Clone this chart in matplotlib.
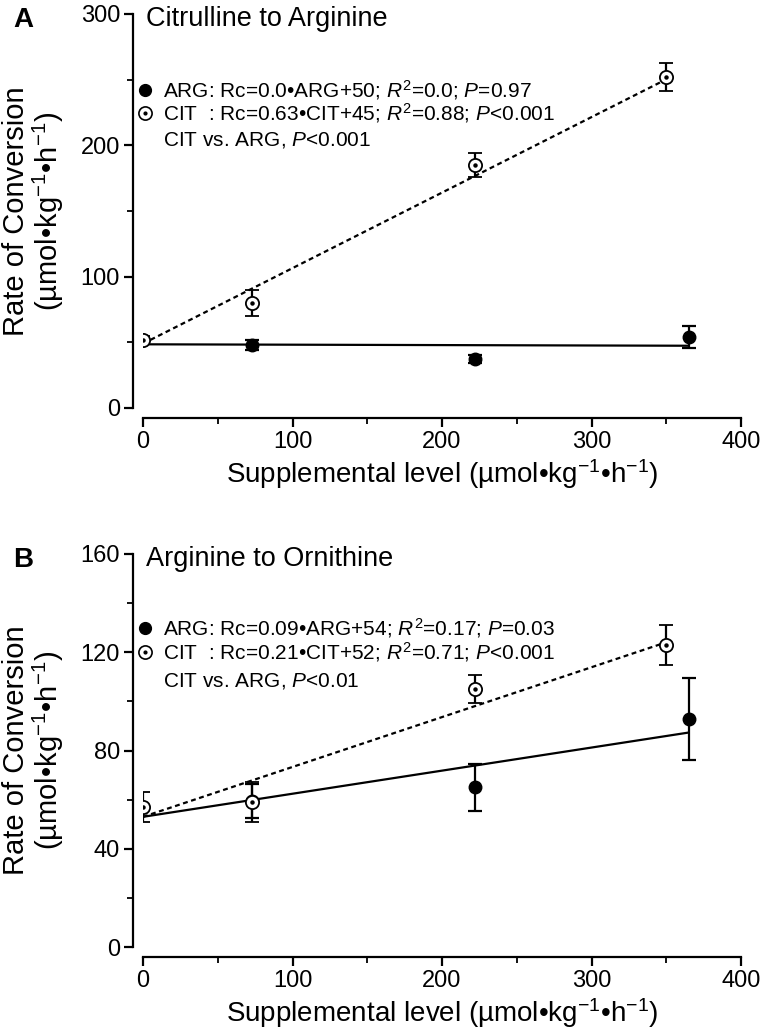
import matplotlib
matplotlib.use("Agg")
import matplotlib.pyplot as plt
from matplotlib.ticker import MultipleLocator
import numpy as np

plt.rcParams['font.family'] = ['Liberation Sans', 'DejaVu Sans']
plt.rcParams['mathtext.fontset'] = 'custom'
plt.rcParams['mathtext.rm'] = 'Liberation Sans'
plt.rcParams['mathtext.it'] = 'Liberation Sans:italic'

# Panel A: citrulline to arginine
a_arg_x = [73, 222, 365]
a_arg_y = [48, 37, 54]
a_arg_err = [4, 3, 8.5]
a_cit_x = [0, 73, 222, 350]
a_cit_y = [52, 80, 185, 252]
a_cit_err = [3, 10, 9, 11]
a_arg_fit = (-0.003, 48.5)   # slope, intercept as drawn
a_cit_fit = (0.575, 49)
a_arg_fit_x = [0, 365]
a_cit_fit_x = [0, 350]

# Panel B: arginine to ornithine
b_arg_x = [73, 222, 365]
b_arg_y = [59.5, 65, 93]
b_arg_err = [7, 9.7, 16.7]
b_cit_x = [0, 73, 222, 350]
b_cit_y = [57, 59, 105, 123]
b_cit_err = [6, 8, 5.7, 8]
b_arg_fit = (0.094, 53)
b_cit_fit = (0.203, 53)
b_arg_fit_x = [0, 365]
b_cit_fit_x = [0, 350]

panels = [
    dict(letter="A", title="Citrulline to Arginine", ymax=300, ymajor=100, yminor=50,
         arg_x=a_arg_x, arg_y=a_arg_y, arg_err=a_arg_err,
         cit_x=a_cit_x, cit_y=a_cit_y, cit_err=a_cit_err,
         arg_fit=a_arg_fit, cit_fit=a_cit_fit, arg_fx=a_arg_fit_x, cit_fx=a_cit_fit_x,
         arg_lab=r"ARG: Rc=0.0•ARG+50; $\it{R}^{2}$=0.0; $\it{P}$=0.97",
         cit_lab=r"CIT  : Rc=0.63•CIT+45; $\it{R}^{2}$=0.88; $\it{P}$<0.001",
         cmp_lab=r"CIT vs. ARG, $\it{P}$<0.001",
         leg_y=[0.807, 0.749, 0.680],
         rect=[143/761, 1 - 408/1030, 598/761, 394/1030]),
    dict(letter="B", title="Arginine to Ornithine", ymax=160, ymajor=40, yminor=20,
         arg_x=b_arg_x, arg_y=b_arg_y, arg_err=b_arg_err,
         cit_x=b_cit_x, cit_y=b_cit_y, cit_err=b_cit_err,
         arg_fit=b_arg_fit, cit_fit=b_cit_fit, arg_fx=b_arg_fit_x, cit_fx=b_cit_fit_x,
         arg_lab=r"ARG: Rc=0.09•ARG+54; $\it{R}^{2}$=0.17; $\it{P}$=0.03",
         cit_lab=r"CIT  : Rc=0.21•CIT+52; $\it{R}^{2}$=0.71; $\it{P}$<0.001",
         cmp_lab=r"CIT vs. ARG, $\it{P}$<0.01",
         leg_y=[0.812, 0.751, 0.677],
         rect=[143/761, 1 - 947/1030, 598/761, 393/1030]),
]

fig = plt.figure(figsize=(7.61, 10.30), dpi=100)

for p in panels:
    ax = fig.add_axes(p["rect"])
    ax.set_xlim(0, 400)
    ax.set_ylim(0, p["ymax"])

    # regression lines
    fx = np.array(p["arg_fx"])
    ax.plot(fx, p["arg_fit"][0] * fx + p["arg_fit"][1], color="black", lw=1.6, zorder=2)
    fx = np.array(p["cit_fx"])
    ax.plot(fx, p["cit_fit"][0] * fx + p["cit_fit"][1], color="black", lw=1.6,
            linestyle=(0, (2.2, 1.6)), zorder=2)

    # data
    ax.errorbar(p["arg_x"], p["arg_y"], yerr=p["arg_err"], fmt="o", color="black",
                ms=9, elinewidth=1.6, capsize=5, capthick=1.6, zorder=3)
    ax.errorbar(p["cit_x"], p["cit_y"], yerr=p["cit_err"], fmt="o", color="black",
                mfc="white", mec="black", mew=1.3, ms=9.5, elinewidth=1.6,
                capsize=5, capthick=1.6, zorder=4)
    ax.plot(p["cit_x"], p["cit_y"], "o", color="black", ms=2.2, zorder=5)

    # axes styling
    for s in ["top", "right"]:
        ax.spines[s].set_visible(False)
    ax.spines["left"].set_position(("outward", 7))
    ax.spines["bottom"].set_position(("outward", 7))
    ax.spines["left"].set_linewidth(1.6)
    ax.spines["bottom"].set_linewidth(1.6)
    ax.xaxis.set_major_locator(MultipleLocator(100))
    ax.xaxis.set_minor_locator(MultipleLocator(50))
    ax.yaxis.set_major_locator(MultipleLocator(p["ymajor"]))
    ax.yaxis.set_minor_locator(MultipleLocator(p["yminor"]))
    ax.tick_params(which="major", length=6.5, width=1.6, labelsize=17, pad=3)
    ax.tick_params(which="minor", length=4.5, width=1.3)

    ax.set_xlabel("Supplemental level (µmol•kg$^{-1}$•h$^{-1}$)", fontsize=20, labelpad=3)
    yc = p["rect"][1] + p["rect"][3] / 2
    fig.text(34/761, yc, "Rate of Conversion\n(µmol•kg$^{-1}$•h$^{-1}$)", fontsize=21,
             rotation=90, ha="center", va="center", linespacing=1.05)

    ax.text(0.005, 1.0 - 5/394, p["title"], transform=ax.transAxes, fontsize=19.5,
            ha="left", va="center")
    fig.text(13/761, p["rect"][1] + p["rect"][3] - 6/1030, p["letter"], fontsize=20,
             fontweight="bold", ha="left", va="center")

    # key
    ly = p["leg_y"]
    ax.plot([0.004], [ly[0]], "o", color="black", ms=8.5, transform=ax.transAxes, clip_on=False)
    ax.plot([0.004], [ly[1]], "o", mfc="white", mec="black", mew=1.2, ms=9.5,
            transform=ax.transAxes, clip_on=False)
    ax.plot([0.004], [ly[1]], "o", color="black", ms=2, transform=ax.transAxes, clip_on=False)
    for lab, y in zip([p["arg_lab"], p["cit_lab"], p["cmp_lab"]], ly):
        ax.text(0.033, y, lab, transform=ax.transAxes, fontsize=15, ha="left", va="center")

fig.savefig("out.png", dpi=100)
